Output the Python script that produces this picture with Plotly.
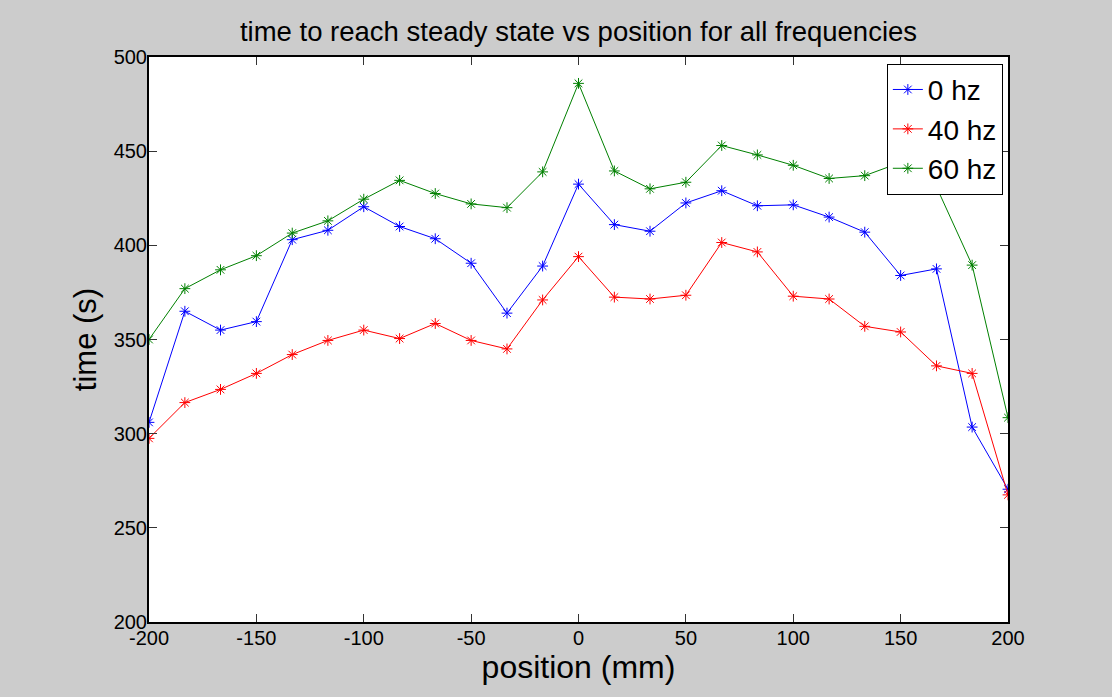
import plotly.graph_objects as go

position_mm = [-200, -183.3, -166.7, -150, -133.3, -116.7, -100, -83.3, -66.7, -50,
               -33.3, -16.7, 0, 16.7, 33.3, 50, 66.7, 83.3, 100, 116.7,
               133.3, 150, 166.7, 183.3, 200]

time_0hz = [306, 365, 355, 359.5, 403, 408, 420.5, 410, 403.5, 390.5,
            364, 389, 432.5, 411, 407.5, 422.5, 429, 421, 421.5, 415,
            407, 384, 387.5, 303.5, 270.5]

time_40hz = [297.5, 316.5, 323.5, 332, 342, 349.5, 355, 350.5, 358.5, 349.5,
             345, 371, 394, 372.5, 371.5, 373.5, 401.5, 396.5, 373, 371.5,
             357, 354, 336, 332, 267.5]

time_60hz = [350, 377, 387, 394.5, 406.5, 413, 424.5, 434.5, 427.5, 422,
             420, 439, 486, 439.5, 430, 433.5, 453, 448, 442.5, 435.5,
             437, 444, 431, 389.5, 308.5]

series_names = ["0 hz", "40 hz", "60 hz"]
series_colors = ["#0000ff", "#ff0000", "#008000"]
series_values = [time_0hz, time_40hz, time_60hz]

x_ticks = [-200, -150, -100, -50, 0, 50, 100, 150, 200]
x_tick_labels = ["-200", "-150", "-100", "-50", "0", "50", "100", "150", "200"]
y_ticks = [200, 250, 300, 350, 400, 450, 500]
y_tick_labels = ["200", "250", "300", "350", "400", "450", "500"]

FONT = "Liberation Sans, Arial, sans-serif"

fig = go.Figure()
for name, color, vals in zip(series_names, series_colors, series_values):
    fig.add_trace(go.Scatter(
        x=position_mm, y=vals, name=name, mode="lines+markers",
        line=dict(color=color, width=1),
        marker=dict(symbol="asterisk-open", size=9, color=color,
                    line=dict(color=color, width=1)),
    ))

axis_common = dict(
    showgrid=False, zeroline=False, showline=True, linecolor="black",
    linewidth=2, mirror="ticks", ticks="inside", ticklen=8, tickwidth=1,
    tickcolor="#333333",
    tickfont=dict(family=FONT, size=20, color="black"),
)

fig.update_layout(
    width=1112, height=697,
    paper_bgcolor="#cccccc", plot_bgcolor="white",
    margin=dict(l=149, r=104, t=57, b=75),
    title=dict(text="time to reach steady state vs position for all frequencies",
               font=dict(family=FONT, size=27.5, color="black"),
               x=(149 + 1008) / 2 / 1112, xanchor="center",
               y=1 - 31 / 697, yanchor="middle"),
    xaxis=dict(range=[-200, 200], tickvals=x_ticks, ticktext=x_tick_labels,
               ticklabelstandoff=-3,
               title=dict(text="position (mm)",
                          font=dict(family=FONT, size=32, color="black"),
                          standoff=2),
               **axis_common),
    yaxis=dict(range=[200, 500], tickvals=y_ticks, ticktext=y_tick_labels,
               ticklabelstandoff=-4,
               title=dict(text="time (s)",
                          font=dict(family=FONT, size=31, color="black"),
                          standoff=8),
               **axis_common),
    legend=dict(x=0.994, xanchor="right", y=0.988, yanchor="top",
                bgcolor="white", bordercolor="black", borderwidth=1,
                font=dict(family=FONT, size=28, color="black"),
                tracegroupgap=0),
    showlegend=True,
)

fig.write_html("out.html",
               config={"displayModeBar": False},
               post_script="document.body.style.margin='0px';document.body.style.background='#cccccc';")
